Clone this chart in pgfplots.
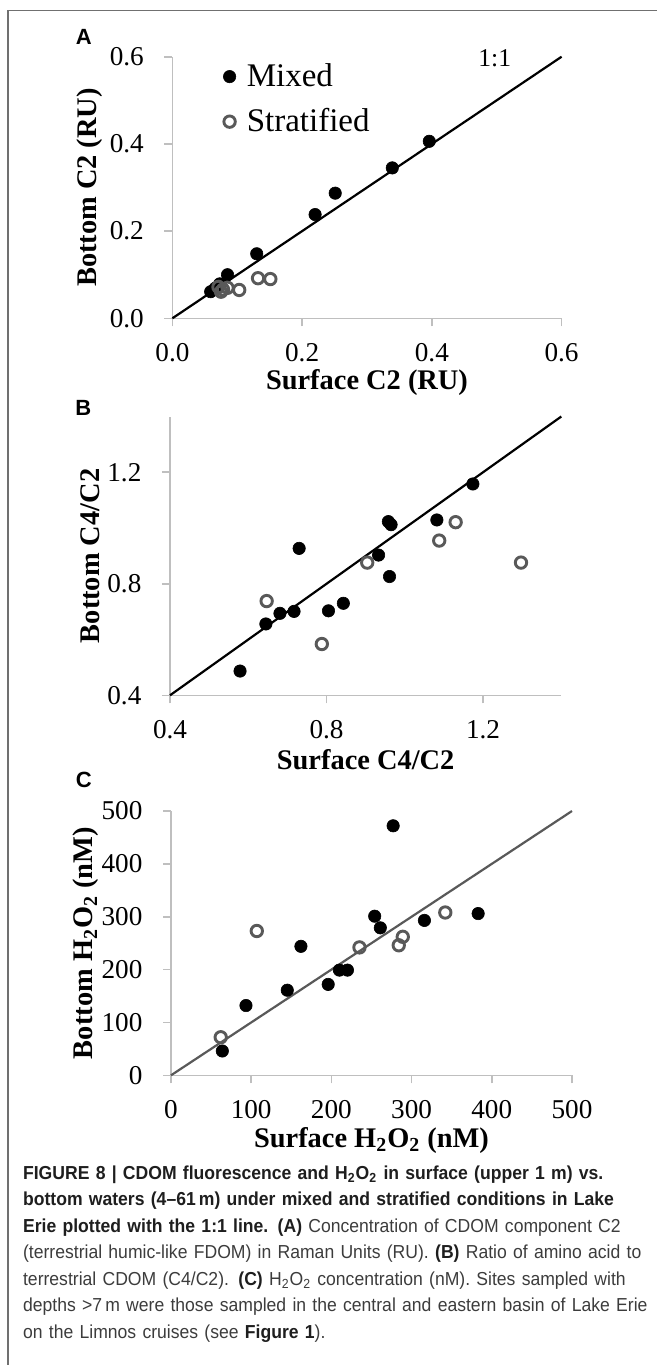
\documentclass[border=0pt]{standalone}
\usepackage{pgfplots}
\pgfplotsset{compat=1.18}
\usepackage{fontspec}
\setmainfont{Liberation Serif}
\newfontfamily\capfont[FakeStretch=0.935]{Liberation Sans}
\newfontfamily\panelfont{Liberation Sans}
\definecolor{axisgray}{HTML}{BFBFBF}
\definecolor{markgray}{HTML}{595959}
\definecolor{framegray}{HTML}{707070}
\definecolor{capbold}{HTML}{1E1E1E}
\definecolor{captext}{HTML}{3C3C3C}

\pgfplotsset{
 panel/.style={
  scale only axis, clip=false,
  axis x line=bottom, axis y line=left,
  axis line style={draw=axisgray, line width=0.8pt, -},
  tick style={draw=axisgray, line width=0.8pt},
  tick align=outside, major tick length=4pt,
  minor tick num=0,
  tick label style={font=\fontsize{13.6}{16}\selectfont, inner sep=1pt},
  xticklabel style={yshift=-7.2pt},
  yticklabel style={xshift=-9.1pt},
  label style={font=\bfseries\fontsize{14.2}{17}\selectfont, inner sep=1pt},
  xlabel style={at={([yshift=-32.2pt]axis description cs:0.5,0)}, anchor=center},
  /pgf/number format/assume math mode=true,
 },
 mixed/.style={only marks, mark=*, mark size=3.1pt,
   mark options={fill=black, draw=black, line width=0.3pt},
   legend image code/.code={\draw[##1] plot coordinates {(0pt,0pt)};}},
 strat/.style={only marks, mark=o, mark size=2.85pt,
   mark options={draw=markgray, line width=1.45pt},
   legend image code/.code={\draw[##1] plot coordinates {(0pt,0pt)};}},
}

\begin{document}
\begin{tikzpicture}
\path[use as bounding box] (0pt,0pt) rectangle (328.5pt,-682.5pt);
\draw[framegray, line width=0.75pt] (4pt,-682.5pt) -- (4pt,-5.35pt) -- (328.5pt,-5.35pt);

% Panel letters
\node[font=\panelfont\bfseries\fontsize{11}{13}\selectfont, inner sep=0pt] at (41.85pt,-18.35pt) {A};
\node[font=\panelfont\bfseries\fontsize{11}{13}\selectfont, inner sep=0pt] at (41.65pt,-204.15pt) {B};
\node[font=\panelfont\bfseries\fontsize{11}{13}\selectfont, inner sep=0pt] at (41.9pt,-390pt) {C};

% ---------------- Panel A ----------------
\begin{axis}[panel, at={(86.2pt,-159.15pt)}, anchor=south west,
  width=194.6pt, height=130.8pt,
  xmin=0, xmax=0.6, ymin=0, ymax=0.6,
  xtick={0,0.2,0.4,0.6}, ytick={0,0.2,0.4,0.6},
  /pgf/number format/fixed, /pgf/number format/fixed zerofill, /pgf/number format/precision=1,
  xlabel={Surface C2 (RU)}, ylabel={Bottom C2 (RU)},
  ylabel style={at={([xshift=-41.2pt]axis description cs:0,0.5)}, anchor=center},
  legend cell align=left,
  legend style={draw=none, fill=none, inner sep=0pt, at={(axis cs:0.078,0.585)}, anchor=north west,
    font=\fontsize{16.5}{19}\selectfont, row sep=9.5pt,
    nodes={inner sep=0pt},
    /tikz/every odd column/.append style={column sep=5.5pt}},
]
\addplot[black, line width=1.1pt, forget plot] coordinates {(0,0) (0.6,0.6)};
\addplot[mixed] coordinates {
 (0.059,0.061) (0.066,0.069) (0.073,0.079) (0.085,0.100) (0.130,0.148)
 (0.220,0.238) (0.251,0.287) (0.339,0.345) (0.396,0.406)};
\addlegendentry{Mixed}
\addplot[strat] coordinates {
 (0.071,0.072) (0.075,0.061) (0.078,0.066) (0.085,0.070) (0.103,0.065)
 (0.132,0.092) (0.151,0.090)};
\addlegendentry{Stratified}
\node[font=\fontsize{12.8}{15}\selectfont, inner sep=0pt] at (axis cs:0.497,0.597) {1:1};
\end{axis}

% ---------------- Panel B ----------------
\begin{axis}[panel, at={(85pt,-347.65pt)}, anchor=south west,
  width=195.65pt, height=139.4pt,
  xmin=0.4, xmax=1.4, ymin=0.4, ymax=1.4,
  xtick={0.4,0.8,1.2}, ytick={0.4,0.8,1.2},
  /pgf/number format/fixed, /pgf/number format/fixed zerofill, /pgf/number format/precision=1,
  xlabel={Surface C4/C2}, ylabel={Bottom C4/C2},
  ylabel style={at={([xshift=-40pt]axis description cs:0,0.5)}, anchor=center},
]
\addplot[black, line width=1.1pt] coordinates {(0.4,0.4) (1.4,1.4)};
\addplot[mixed] coordinates {
 (0.579,0.487) (0.645,0.656) (0.681,0.694) (0.717,0.701) (0.730,0.927)
 (0.805,0.703) (0.843,0.730) (0.933,0.903) (0.958,1.023) (0.965,1.012)
 (0.961,0.826) (1.082,1.029) (1.174,1.158)};
\addplot[strat] coordinates {
 (0.647,0.738) (0.788,0.584) (0.904,0.876) (1.088,0.955) (1.130,1.021) (1.297,0.876)};
\end{axis}

% ---------------- Panel C ----------------
\begin{axis}[panel, at={(85.5pt,-537.65pt)}, anchor=south west,
  width=200.5pt, height=132.15pt,
  xmin=0, xmax=500, ymin=0, ymax=500,
  xtick={0,100,...,500}, ytick={0,100,...,500},
  xlabel={Surface H\textsubscript{2}O\textsubscript{2} (nM)}, ylabel={Bottom H\textsubscript{2}O\textsubscript{2} (nM)},
  xlabel style={at={([yshift=-32.4pt]axis description cs:0.5,0)}, anchor=center},
  ylabel style={at={([xshift=-42.5pt]axis description cs:0,0.5)}, anchor=center},
]
\addplot[markgray, line width=1.1pt] coordinates {(0,0) (500,500)};
\addplot[mixed] coordinates {
 (64,46) (93.5,132) (145,161) (162,244) (196,172) (210,199) (220,199)
 (254,301) (261,279) (277,472) (316,293) (383,306)};
\addplot[strat] coordinates {
 (62,72) (107,273) (235,242) (284,246) (289,262) (342,308)};
\end{axis}

% Caption
\node[anchor=north west, inner sep=0pt, text width=330pt, align=left,
  font=\capfont\fontsize{9.4}{13.25}\selectfont, text=captext] at (11.35pt,-582.5pt) {%
{\bfseries\color{capbold}FIGURE 8 | CDOM fluorescence and H\textsubscript{2}O\textsubscript{2} in surface (upper 1 m) vs.}\\
{\bfseries\color{capbold}bottom waters (4\textendash 61\,m) under mixed and stratified conditions in Lake}\\
{\bfseries\color{capbold}Erie plotted with the 1:1 line. (A)} Concentration of CDOM component C2\\
(terrestrial humic-like FDOM) in Raman Units (RU). {\bfseries\color{capbold}(B)} Ratio of amino acid to\\
terrestrial CDOM (C4/C2). {\bfseries\color{capbold}(C)} H\textsubscript{2}O\textsubscript{2} concentration (nM). Sites sampled with\\
depths >7\,m were those sampled in the central and eastern basin of Lake Erie\\
on the Limnos cruises (see {\bfseries\color{capbold}Figure 1}).};
\end{tikzpicture}
\end{document}
